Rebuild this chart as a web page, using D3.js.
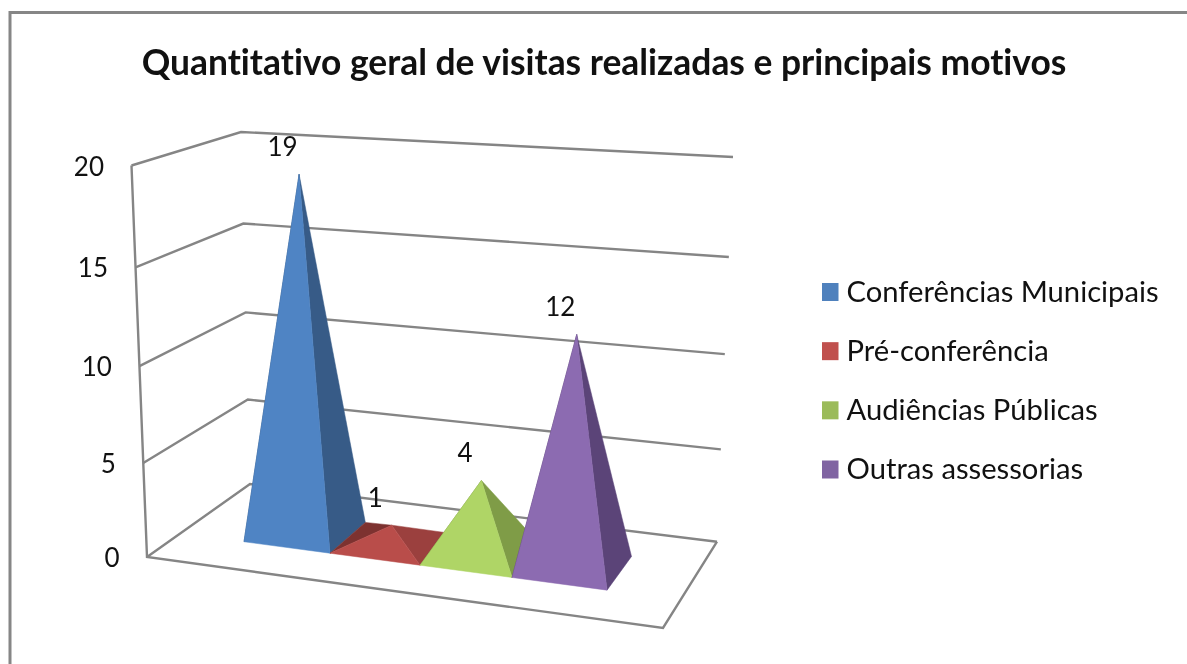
<!DOCTYPE html>
<html lang="pt">
<head>
    <meta charset="UTF-8">
    <title>Quantitativo geral de visitas</title>
    <script src="https://d3js.org/d3.v7.min.js"></script>
    <style>
        body { margin: 0; background: #fff; overflow: hidden; }
        svg { display: block; filter: blur(0.6px); }
        text { font-family: Lato, "Open Sans", sans-serif; fill: #111; font-variant-ligatures: none; }
        .title { font-size: 35.4px; font-weight: 700; text-anchor: middle; }
        .tick-label { font-size: 26px; text-anchor: end; }
        .value-label { font-size: 26px; text-anchor: middle; }
        .legend-label { font-size: 29.2px; dominant-baseline: central; }
        .wall { fill: none; stroke: #858585; stroke-width: 2.4; }
    </style>
</head>
<body>
<svg width="1187" height="664"></svg>
<script>
    const chartTitle = "Quantitativo geral de visitas realizadas e principais motivos";
    const categories = ["Conferências Municipais", "Pré-conferência", "Audiências Públicas", "Outras assessorias"];
    const values = [19, 1, 4, 12];
    const tickValues = [0, 5, 10, 15, 20];

    const frontColors = ["#4f84c4", "#b94d4a", "#afd566", "#8c6bb1"];
    const rightColors = ["#375b87", "#9b403e", "#7f9c47", "#5b4478"];
    const leftColors = ["#2f4e74", "#7d3230", "#6d873c", "#4e3a67"];
    const legendColors = ["#4f81bd", "#c0504d", "#9bbb59", "#8064a2"];

    const svg = d3.select("svg");

    // outer chart border, runs off the right and bottom of the picture
    svg.append("rect")
        .attr("x", 10).attr("y", 12.5)
        .attr("width", 1400).attr("height", 900)
        .attr("fill", "none").attr("stroke", "#868686").attr("stroke-width", 3);

    svg.append("text").attr("class", "title")
        .attr("x", 604).attr("y", 75)
        .text(chartTitle);

    // corners of the 3D box, [floor point, point at the top of the value axis]
    const box = {
        frontLeft: [[147, 557], [131.5, 165.5]],
        backLeft: [[250, 484], [241, 132]],
        backRight: [[717, 541.7], [733, 157]],
        frontRight: [[663, 628], [672.4, 204]]
    };

    // value -> share of the box height, spacing widens a bit towards the top
    const heightScale = d3.scaleLinear().domain(tickValues).range([0, 0.24, 0.4875, 0.74, 1]);
    // category slot edges along the floor width
    const widthScale = d3.scaleLinear().domain([0, 1, 2, 3, 4]).range([0.127, 0.299, 0.479, 0.663, 0.853]);
    // bars only take the middle of the floor depth
    const depthScale = d3.scaleLinear().domain([0, 1]).range([0.325, 0.725]);

    const mix = (a, b, t) => [a[0] + (b[0] - a[0]) * t, a[1] + (b[1] - a[1]) * t];

    // u along the width, d into the depth, v in chart units
    function project(u, d, v) {
        const k = v === undefined ? 0 : heightScale(v);
        const corner = c => mix(box[c][0], box[c][1], k);
        return mix(mix(corner("frontLeft"), corner("frontRight"), u),
                   mix(corner("backLeft"), corner("backRight"), u), d);
    }

    const line = d3.line();

    // walls and floor
    tickValues.forEach(t => {
        svg.append("path").attr("class", "wall")
            .attr("d", line([project(0, 0, t), project(0, 1, t), project(1, 1, t)]));
    });
    svg.append("path").attr("class", "wall")
        .attr("d", line([project(0, 0, 20), project(0, 0, 0), project(1, 0, 0), project(1, 1, 0)]));

    // tick labels
    svg.selectAll(".tick-label")
        .data(tickValues)
        .enter().append("text")
        .attr("class", "tick-label")
        .attr("x", d => project(0, 0, d)[0] - 27.5)
        .attr("y", d => project(0, 0, d)[1] + 10)
        .text(d => d);

    // pyramids, left to right so the later ones cover the earlier ones
    values.forEach((v, i) => {
        const u0 = widthScale(i), u1 = widthScale(i + 1);
        const fl = project(u0, depthScale(0)), fr = project(u1, depthScale(0));
        const bl = project(u0, depthScale(1)), br = project(u1, depthScale(1));
        const apex = project((u0 + u1) / 2, depthScale(0.5), v);

        const g = svg.append("g");
        const face = (pts, color) => g.append("path")
            .attr("d", line(pts) + "Z")
            .attr("fill", color)
            .attr("stroke", color)
            .attr("stroke-width", 0.5);
        face([fl, bl, apex], leftColors[i]);
        face([fr, br, apex], rightColors[i]);
        face([fl, fr, apex], frontColors[i]);
    });

    // value labels on top of everything
    svg.selectAll(".value-label")
        .data(values)
        .enter().append("text")
        .attr("class", "value-label")
        .attr("x", (d, i) => project((widthScale(i) + widthScale(i + 1)) / 2, depthScale(0.5), d)[0] - 16.5)
        .attr("y", (d, i) => project((widthScale(i) + widthScale(i + 1)) / 2, depthScale(0.5), d)[1] - 18)
        .text(d => d);

    // legend
    const legendY = d3.scalePoint().domain(categories).range([292, 469.5]);

    const legend = svg.selectAll(".legend")
        .data(categories)
        .enter().append("g")
        .attr("class", "legend")
        .attr("transform", d => `translate(822,${legendY(d)})`);

    legend.append("rect")
        .attr("y", -9).attr("width", 16.5).attr("height", 18)
        .attr("fill", (d, i) => legendColors[i]);

    legend.append("text")
        .attr("class", "legend-label")
        .attr("x", 24.5)
        .attr("y", -2)
        .text(d => d);
</script>
</body>
</html>
